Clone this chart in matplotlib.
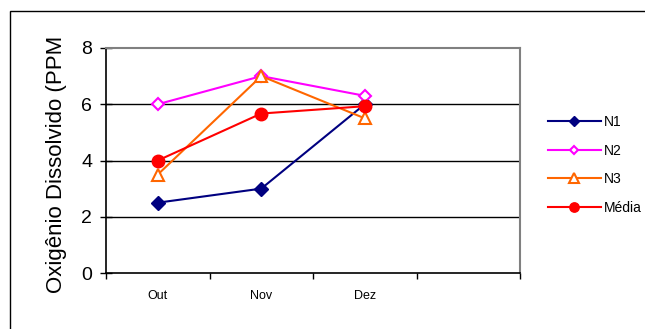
import numpy as np
import matplotlib
matplotlib.use("Agg")
import matplotlib.pyplot as plt
from matplotlib.patches import Rectangle
from matplotlib.transforms import Bbox, TransformedBbox

plt.rcParams["font.family"] = ["Liberation Sans", "DejaVu Sans"]

# oxygen readings per month (4th slot left empty)
months = ["Out", "Nov", "Dez", ""]
n1 = [2.5, 3.0, 6.0]
n2 = [6.0, 7.0, 6.3]
n3 = [3.5, 7.0, 5.5]
media = [4.0, 5.67, 5.93]

series = [
    ("N1", n1, dict(color="#000080", marker="D", ms=7, mfc="#000080")),
    ("N2", n2, dict(color="#FF00FF", marker="D", ms=6, mfc="white", mew=1.5)),
    ("N3", n3, dict(color="#FF6600", marker="^", ms=9, mfc="white", mew=1.5)),
    ("Média", media, dict(color="#FF0000", marker="o", ms=9, mfc="#FF0000")),
]

fig = plt.figure(figsize=(6.45, 3.29), dpi=100)
ax = fig.add_axes([106 / 645, 1 - 273 / 329, 414 / 645, 225 / 329])

x = np.arange(len(n1)) + 0.5
for name, vals, st in series:
    ax.plot(x, vals, lw=1.5, label=name, zorder=3, **st)

ax.set_xlim(0, len(months))
ax.set_ylim(0, 8)
ax.set_yticks([0, 2, 4, 6, 8])
ax.tick_params(axis="y", direction="inout", length=8, width=1, labelsize=14, pad=6)
ax.set_xticks(np.arange(len(months) + 1))
ax.set_xticklabels([])
ax.set_xticks(np.arange(len(months)) + 0.5, minor=True)
ax.set_xticklabels(months, minor=True)
ax.tick_params(axis="x", which="major", direction="out", length=4, width=1)
ax.tick_params(axis="x", which="minor", length=0, labelsize=9, pad=12)

for v in [2, 4, 6]:
    ax.axhline(v, color="black", lw=1, zorder=1)
for side in ["left", "bottom"]:
    ax.spines[side].set_color("black")
    ax.spines[side].set_linewidth(1.2)
for side in ["top", "right"]:
    ax.spines[side].set_color("#808080")
    ax.spines[side].set_linewidth(1.5)

ylab = ax.set_ylabel("Oxigênio Dissolvido (PPM)", fontsize=16, labelpad=10)
ylab.set_clip_box(TransformedBbox(Bbox([[0, 0], [1, 1 - 37 / 329]]), fig.transFigure))
ylab.set_clip_on(True)

ax.legend(loc="upper left", bbox_to_anchor=(548 / 645, 1 - 115 / 329),
          bbox_transform=fig.transFigure, frameon=False, fontsize=10,
          handlelength=3.8, handletextpad=0.2, labelspacing=1.05,
          markerscale=0.75, borderaxespad=0, borderpad=0)

# chart border
fig.patches.append(Rectangle((10 / 645, -0.1), 1.2, 1.1 - 11 / 329,
                             transform=fig.transFigure, fill=False,
                             edgecolor="black", lw=1))

fig.savefig("out.png", dpi=100)
